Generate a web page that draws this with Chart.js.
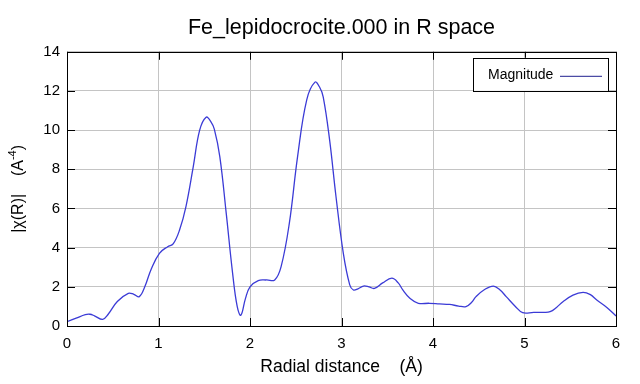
<!DOCTYPE html>
<html lang="en-US">
<head>
<meta charset="UTF-8">
<title>Fe_lepidocrocite.000 in R space</title>
<script src="https://cdn.jsdelivr.net/npm/chart.js@4.4.1/dist/chart.umd.min.js"></script>
<style>
  html, body { margin: 0; padding: 0; background: #fff; }
  #wrap { width: 640px; height: 384px; }
</style>
</head>
<body>
<div id="wrap"><canvas id="chart" width="640" height="384"></canvas></div>
<script>
// radial distance (Å) and |chi(R)|
var radius = [0.00, 0.10, 0.20, 0.25, 0.30, 0.39, 0.45, 0.55, 0.67, 0.73, 0.79, 0.85, 0.92, 1.01, 1.10, 1.16,
  1.23, 1.30, 1.38, 1.45, 1.52, 1.57, 1.61, 1.67, 1.74, 1.81, 1.86, 1.90, 1.95, 2.00, 2.09, 2.18, 2.27,
  2.34, 2.43, 2.52, 2.62, 2.71, 2.76, 2.80, 2.87, 2.94, 3.02, 3.09, 3.13, 3.18, 3.24, 3.30, 3.36, 3.45,
  3.55, 3.62, 3.67, 3.75, 3.84, 3.96, 4.07, 4.18, 4.28, 4.36, 4.42, 4.47, 4.56, 4.66, 4.73, 4.80, 4.90,
  4.98, 5.10, 5.20, 5.28, 5.35, 5.42, 5.53, 5.64, 5.72, 5.79, 5.90, 6.00];
var magnitude = [0.22, 0.40, 0.58, 0.60, 0.52, 0.34, 0.60, 1.25, 1.67, 1.62, 1.50, 2.00, 2.90, 3.71, 4.05, 4.19,
  4.90, 6.10, 8.14, 10.00, 10.66, 10.45, 10.05, 8.65, 5.76, 2.69, 1.00, 0.55, 1.40, 2.00, 2.32, 2.35, 2.35,
  3.03, 5.25, 8.65, 11.55, 12.45, 12.20, 11.70, 9.50, 6.60, 3.71, 2.10, 1.84, 1.90, 2.04, 2.00, 1.92, 2.20,
  2.44, 2.20, 1.84, 1.40, 1.16, 1.16, 1.13, 1.10, 1.02, 0.99, 1.20, 1.50, 1.85, 2.04, 1.85, 1.50, 1.00,
  0.68, 0.70, 0.70, 0.73, 0.95, 1.24, 1.58, 1.72, 1.60, 1.33, 0.95, 0.51];

var xTicks = [0, 1, 2, 3, 4, 5, 6];
var yTicks = [0, 2, 4, 6, 8, 10, 12, 14];

var points = [];
for (var i = 0; i < radius.length; i++) {
  points.push({ x: radius[i], y: magnitude[i] });
}

var FONT = "'Liberation Sans', Arial, sans-serif";

// frame round the plot with short inward ticks, the boxed legend and the y title
var frame = {
  id: 'frame',
  afterDraw: function(chart) {
    var ctx = chart.ctx, a = chart.chartArea;
    var xs = chart.scales.x, ys = chart.scales.y;
    ctx.save();
    ctx.strokeStyle = '#000';
    ctx.lineWidth = 1;
    ctx.beginPath();
    xTicks.forEach(function(v) {
      var px = Math.round(xs.getPixelForValue(v)) + 0.5;
      ctx.moveTo(px, a.bottom); ctx.lineTo(px, a.bottom - 8);
      ctx.moveTo(px, a.top); ctx.lineTo(px, a.top + 8);
    });
    yTicks.forEach(function(v) {
      var py = Math.round(ys.getPixelForValue(v)) + 0.5;
      ctx.moveTo(a.left, py); ctx.lineTo(a.left + 8, py);
      ctx.moveTo(a.right, py); ctx.lineTo(a.right - 8, py);
    });
    ctx.stroke();
    ctx.strokeRect(Math.round(a.left) + 0.5, Math.round(a.top) + 0.5,
      Math.round(a.right - a.left), Math.round(a.bottom - a.top));

    // legend
    var lx = a.right - 143, ly = a.top + 6, lw = 135, lh = 33;
    ctx.fillStyle = '#fff';
    ctx.fillRect(lx, ly, lw, lh);
    ctx.strokeRect(Math.round(lx) + 0.5, Math.round(ly) + 0.5, lw, lh);
    ctx.fillStyle = '#000';
    ctx.font = '14px ' + FONT;
    ctx.textBaseline = 'middle';
    ctx.textAlign = 'left';
    ctx.fillText('Magnitude', lx + 15, ly + 17);
    ctx.strokeStyle = '#20208f';
    ctx.beginPath();
    ctx.moveTo(lx + 87, ly + 18.5);
    ctx.lineTo(lx + 129, ly + 18.5);
    ctx.stroke();

    // y axis title with a real superscript
    var main = '|χ(R)|    (A', sup = '-4', tail = ')';
    var big = '16px ' + FONT, small = '11px ' + FONT;
    ctx.font = big;
    var w1 = ctx.measureText(main).width, w3 = ctx.measureText(tail).width;
    ctx.font = small;
    var w2 = ctx.measureText(sup).width;
    var total = w1 + w2 + w3;
    ctx.translate(18, (a.top + a.bottom) / 2);
    ctx.rotate(-Math.PI / 2);
    ctx.fillStyle = '#000';
    ctx.textBaseline = 'middle';
    var sx = -total / 2;
    ctx.font = big;
    ctx.fillText(main, sx, 1);
    ctx.font = small;
    ctx.fillText(sup, sx + w1, -5);
    ctx.font = big;
    ctx.fillText(tail, sx + w1 + w2, 1);
    ctx.restore();
  }
};

var ctx = document.getElementById('chart').getContext('2d');
var chart = new Chart(ctx, {
  type: 'scatter',
  data: {
    datasets: [{
      label: 'Magnitude',
      data: points,
      showLine: true,
      borderColor: '#3b3bd6',
      borderWidth: 1.3,
      pointRadius: 0,
      tension: 0.4,
      fill: false
    }]
  },
  options: {
    responsive: false,
    animation: false,
    layout: { padding: { left: 0, right: 24, top: 0, bottom: 0 } },
    plugins: {
      legend: { display: false },
      tooltip: { enabled: false },
      title: {
        display: true,
        fullSize: false,
        text: 'Fe_lepidocrocite.000 in R space',
        color: '#000',
        font: { family: FONT, size: 21.5, weight: 'normal' },
        padding: { top: 15, bottom: 11 }
      }
    },
    scales: {
      x: {
        type: 'linear',
        min: 0, max: 6,
        afterFit: function(s) { s.height = 58; },
        afterBuildTicks: function(s) { s.ticks = xTicks.map(function(v) { return { value: v }; }); },
        grid: { color: '#c4c4c4', drawTicks: false, lineWidth: 1 },
        border: { display: false },
        ticks: { color: '#000', padding: 9, font: { family: FONT, size: 15 } },
        title: {
          display: true,
          text: 'Radial distance    (Å)',
          color: '#000',
          font: { family: FONT, size: 17.5 },
          padding: { top: 0, bottom: 6 }
        }
      },
      y: {
        type: 'linear',
        min: 0, max: 14,
        afterFit: function(s) { s.width = 67; },
        afterBuildTicks: function(s) { s.ticks = yTicks.map(function(v) { return { value: v }; }); },
        grid: { color: '#c4c4c4', drawTicks: false, lineWidth: 1 },
        border: { display: false },
        ticks: { color: '#000', padding: 7, font: { family: FONT, size: 15 } }
      }
    }
  },
  plugins: [frame]
});
</script>
</body>
</html>
